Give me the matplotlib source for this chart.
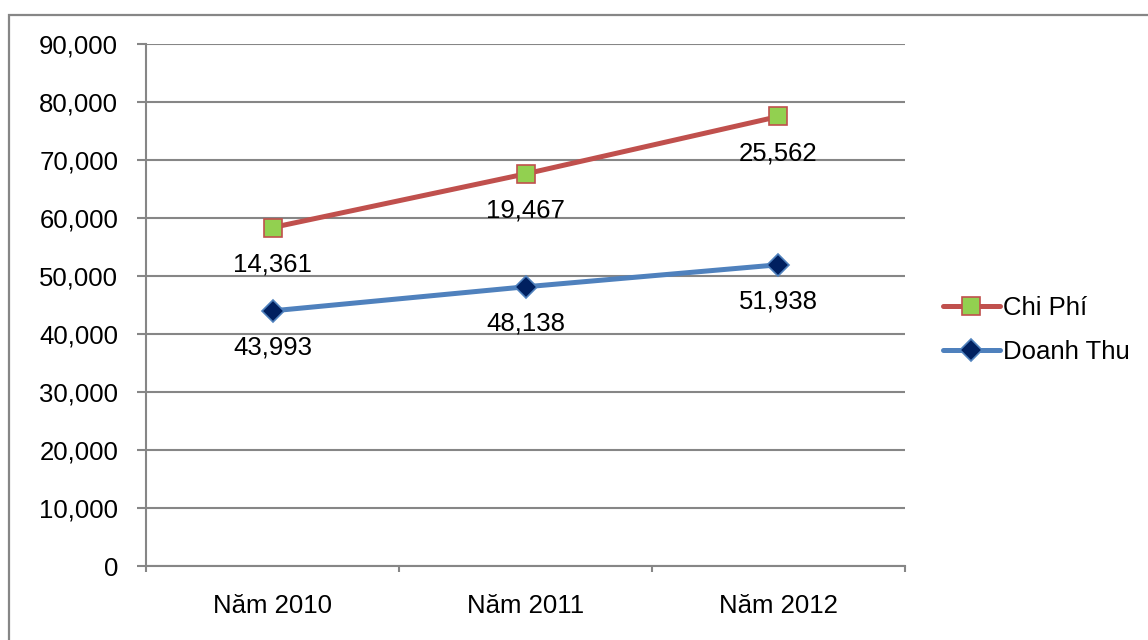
import matplotlib
matplotlib.use("Agg")
import matplotlib.pyplot as plt
from matplotlib.patches import Rectangle
import numpy as np

plt.rcParams['font.family'] = ['Liberation Sans', 'DejaVu Sans']

years = ["Năm 2010", "Năm 2011", "Năm 2012"]
doanh_thu = [43993, 48138, 51938]
chi_phi = [14361, 19467, 25562]
y_ticks = [0, 10000, 20000, 30000, 40000, 50000, 60000, 70000, 80000, 90000]

GRID = "#868686"
RED = "#C0504D"
BLUE = "#4F81BD"
FS = 18.5

fig = plt.figure(figsize=(11.48, 6.40), dpi=100)
fig.patch.set_facecolor("white")

# chart frame
fig.patches.append(Rectangle((9 / 1148, -0.05), 1.2, 1 - 15 / 640 + 0.05,
                             transform=fig.transFigure, fill=False,
                             edgecolor=GRID, linewidth=1.6, zorder=0))

ax = fig.add_axes([146 / 1148, 1 - 566 / 640, (905 - 146) / 1148, (566 - 44) / 640])
x = np.arange(len(years))

# stacked series: costs sit on top of revenue
stacked = np.array(doanh_thu) + np.array(chi_phi)

l_cp, = ax.plot(x, stacked, color=RED, linewidth=3.6, marker="s", markersize=13,
                markerfacecolor="#92D050", markeredgecolor=RED, markeredgewidth=1.2,
                label="Chi Phí", zorder=4, solid_capstyle="round")
l_dt, = ax.plot(x, doanh_thu, color=BLUE, linewidth=3.6, marker="D", markersize=11,
                markerfacecolor="#002060", markeredgecolor=BLUE, markeredgewidth=1.2,
                label="Doanh Thu", zorder=4, solid_capstyle="round")

for xi, yv, v in zip(x, stacked, chi_phi):
    ax.annotate(f"{v:,}", (xi, yv), xytext=(0, -26.5), textcoords="offset points",
                ha="center", va="center", fontsize=FS, color="black", zorder=5)
for xi, yv, v in zip(x, doanh_thu, doanh_thu):
    ax.annotate(f"{v:,}", (xi, yv), xytext=(0, -26.5), textcoords="offset points",
                ha="center", va="center", fontsize=FS, color="black", zorder=5)

ax.set_xlim(-0.5, len(years) - 0.5)
ax.set_ylim(0, 90000)
ax.set_yticks(y_ticks)
ax.set_yticklabels([f"{t:,}" for t in y_ticks])
ax.set_xticks(x)
ax.set_xticklabels(years)
ax.set_xticks(np.arange(len(years) + 1) - 0.5, minor=True)

ax.grid(axis="y", color=GRID, linewidth=1.5)
ax.set_axisbelow(True)
for s in ["top", "right"]:
    ax.spines[s].set_visible(False)
for s in ["left", "bottom"]:
    ax.spines[s].set_color(GRID)
    ax.spines[s].set_linewidth(1.5)

ax.tick_params(axis="y", length=6.5, width=1.5, color=GRID, pad=13.5, labelsize=FS)
ax.tick_params(axis="x", which="major", length=0, pad=20, labelsize=FS)
ax.tick_params(axis="x", which="minor", length=4, width=1.5, color=GRID)

fig.legend(handles=[l_cp, l_dt], loc="center left",
           bbox_to_anchor=(943 / 1148, 1 - 330 / 640), frameon=False,
           fontsize=FS, handlelength=2.2, handletextpad=0.15, borderpad=0,
           borderaxespad=0, labelspacing=0.8)

fig.savefig("out.png", dpi=100, facecolor="white")
